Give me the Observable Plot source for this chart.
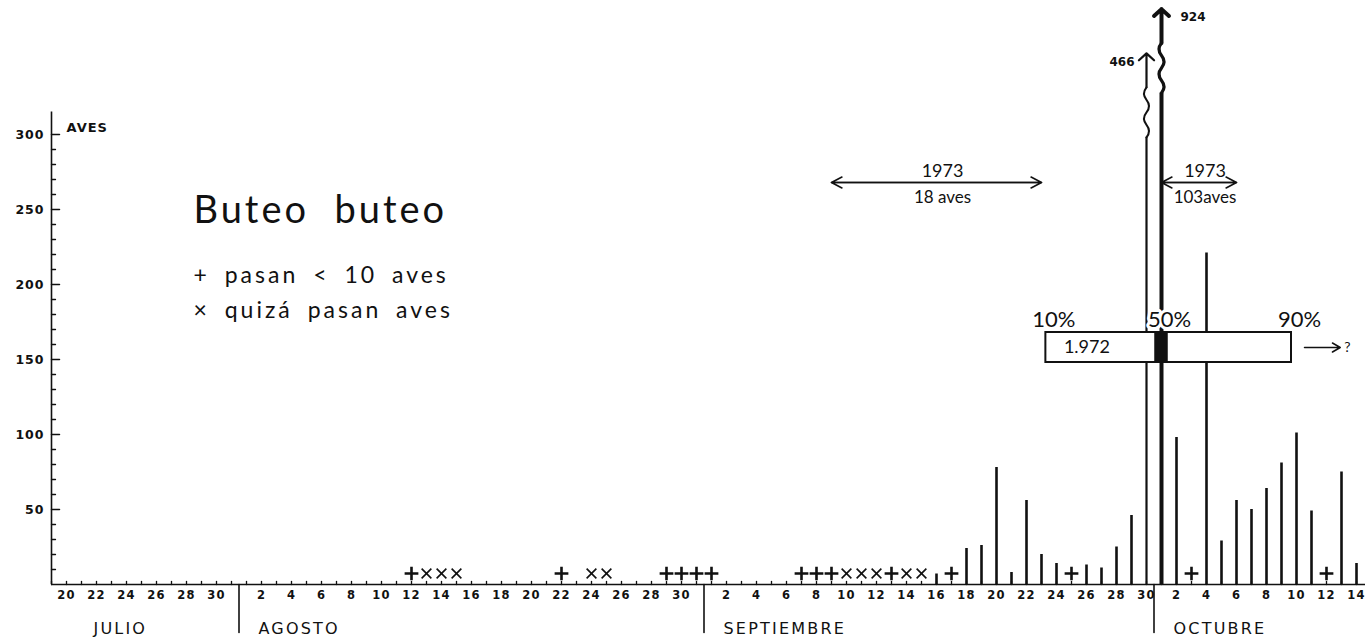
<!DOCTYPE html>
<html>
<head>
<meta charset="utf-8">
<script src="https://cdn.jsdelivr.net/npm/d3@7"></script>
<script src="https://cdn.jsdelivr.net/npm/@observablehq/plot@0.6"></script>
<style>
  html, body { margin: 0; padding: 0; background: #fff; }
  #chart svg { display: block; }
  #chart [aria-label="x-axis tick label"] text { letter-spacing: 1.2px; }
  #chart [aria-label="y-axis tick label"] text { letter-spacing: 1px; }
</style>
</head>
<body>
<div id="chart"></div>
<script>
// ---------------- data ----------------
const YEAR = 1972;
const barDays = ["09-16","09-18","09-19","09-20","09-21","09-22","09-23","09-24","09-26","09-27","09-28","09-29","09-30",
                 "10-01","10-02","10-04","10-05","10-06","10-07","10-08","10-09","10-10","10-11","10-13","10-14"];
const barAves = [7, 24, 26, 78, 8, 56, 20, 14, 13, 11, 25, 46, 466,
                 924, 98, 221, 29, 56, 50, 64, 81, 101, 49, 75, 14];
const plusDays = ["08-12","08-22","08-29","08-30","08-31","09-01","09-07","09-08","09-09","09-13","09-17","09-25","10-03","10-12"];
const timesDays = ["08-13","08-14","08-15","08-24","08-25","09-10","09-11","09-12","09-14","09-15"];

const xTickDays = ["07-20","07-22","07-24","07-26","07-28","07-30",
  "08-02","08-04","08-06","08-08","08-10","08-12","08-14","08-16","08-18","08-20","08-22","08-24","08-26","08-28","08-30",
  "09-02","09-04","09-06","09-08","09-10","09-12","09-14","09-16","09-18","09-20","09-22","09-24","09-26","09-28","09-30",
  "10-02","10-04","10-06","10-08","10-10","10-12","10-14"];
const yTicks = [50, 100, 150, 200, 250, 300];
const yMinorTicks = [10,20,30,40,60,70,80,90,110,120,130,140,160,170,180,190,210,220,230,240,260,270,280,290];

const monthNames = ["JULIO", "AGOSTO", "SEPTIEMBRE", "OCTUBRE"];
const monthLabelDays = ["07-22", "08-02", "09-02", "10-02"];
const monthStarts = ["08-01", "09-01", "10-01"];

const pctLabels = ["10%", "50%", "90%"];
const pctTimes = ["09-23T19:00", "10-01T12:00", "10-10T04:00"];
const label1972 = "1.972";

const span1973From = ["09-09", "10-01"];
const span1973To = ["09-23", "10-06"];
const span1973Year = ["1973", "1973"];
const span1973Text = ["18 aves", "103aves"];

const titleText = "Buteo\u00a0\u00a0buteo";
const legendTexts = ["+ pasan < 10 aves", "× quizá pasan aves"];

// ---------------- helpers ----------------
const DAY = 864e5;
const noon = s => new Date(`${YEAR}-${s}T12:00:00Z`);
const at = s => new Date(`${YEAR}-${s}:00Z`);
const midnight = s => new Date(`${YEAR}-${s}T00:00:00Z`);

const W = 1370, H = 639, MT = 8, MB = 55, ML = 51, MR = 5, Y_MAX = 384;
const PXU = (H - MT - MB) / Y_MAX;           // pixels per bird
const INK = "#111";
const LETTER = "Lato, 'Open Sans', sans-serif";
const TICKFONT = "'DejaVu Sans', sans-serif";

const xDomain = [noon("07-19"), new Date(+noon("10-14") + 0.6 * DAY)];
const bars = barDays.map((s, i) => ({date: noon(s), aves: barAves[i]}));
const normal = bars.filter(d => d.aves <= 300);
const broken = bars.filter(d => d.aves > 300);
const peak = d3.max(barAves);
const isPeak = d => d.aves === peak;

// compressed (broken) upper part of the y axis for off-scale days
const shown = d3.scaleLog().domain([400, 1000]).range([347.5, 387]);
const ARROW_PX = 34, WIGGLE_PX = 50;
const topOf = d => shown(d.aves);
const arrowStart = d => topOf(d) - ARROW_PX / PXU;
const wiggleStart = d => arrowStart(d) - WIGGLE_PX / PXU;

const shapeLine = {draw(c, l) { c.moveTo(0, 0); c.lineTo(0, -l); }};
const shapeWiggle = {draw(c, l) {
  const n = 4, s = l / n, a = 5;
  c.moveTo(0, 0);
  for (let i = 0; i < n; i++) c.quadraticCurveTo(i % 2 ? -a : a, -(i + 0.5) * s, 0, -(i + 1) * s);
}};

const allDays = d3.utcDay.range(midnight("07-19"), midnight("10-15")).map(d => new Date(+d + DAY / 2));
const p10 = at(pctTimes[0]), p50 = at(pctTimes[1]), p90 = at(pctTimes[2]);
const pctData = pctTimes.map((t, i) => ({x: at(t), label: pctLabels[i]}));
const spans = span1973From.map((s, i) => ({from: noon(s), to: noon(span1973To[i]),
  mid: new Date((+noon(s) + +noon(span1973To[i])) / 2), year: span1973Year[i], text: span1973Text[i]}));
const SPAN_Y = 268, BOX_Y1 = 148, BOX_Y2 = 168, BOX_MID = (BOX_Y1 + BOX_Y2) / 2;

const chart = Plot.plot({
  width: W, height: H,
  marginTop: MT, marginBottom: MB, marginLeft: ML, marginRight: MR,
  style: {background: "#fff", color: INK, overflow: "visible"},
  x: {type: "utc", domain: xDomain},
  y: {domain: [0, Y_MAX]},
  marks: [
    // axes
    Plot.ruleY([0], {stroke: INK, strokeWidth: 1.6}),
    Plot.ruleX([xDomain[0]], {y1: 0, y2: 315, stroke: INK, strokeWidth: 1.6}),
    Plot.vector(allDays, {x: d => d, y: 0, length: 3, anchor: "start", shape: shapeLine, strokeWidth: 1.3}),
    Plot.vector(yTicks, {y: d => d, frameAnchor: "left", rotate: 90, length: 8, anchor: "start", shape: shapeLine, strokeWidth: 1.5}),
    Plot.vector(yMinorTicks, {y: d => d, frameAnchor: "left", rotate: 90, length: 4, anchor: "start", shape: shapeLine, strokeWidth: 1.3}),
    Plot.vector(monthStarts, {x: d => midnight(d), y: 0, rotate: 180, length: 48, anchor: "start", shape: shapeLine, strokeWidth: 1.6}),
    Plot.axisX({ticks: xTickDays.map(noon), tickFormat: d => d.getUTCDate(), tickSize: 0, tickPadding: 6,
      fontSize: 11.5, fontWeight: "bold", fontFamily: TICKFONT, label: null}),
    Plot.axisY({ticks: yTicks, tickSize: 0, tickPadding: 7, fontSize: 12.5, fontWeight: "bold", fontFamily: TICKFONT, label: null}),
    Plot.text(monthNames, {x: (d, i) => noon(monthLabelDays[i]), frameAnchor: "bottom", dy: 49, dx: -3, lineAnchor: "bottom",
      textAnchor: "start", fontSize: 16, fontFamily: TICKFONT, text: d => d}),
    Plot.text(["AVES"], {x: xDomain[0], y: 300, dx: 15, dy: -3, lineAnchor: "bottom", textAnchor: "start",
      fontSize: 13, fontWeight: "bold", fontFamily: TICKFONT, text: d => d}),

    // bars
    Plot.ruleX(normal, {x: "date", y1: 0, y2: "aves", stroke: INK, strokeWidth: 2.6}),
    Plot.ruleX(broken, {x: "date", y1: 0, y2: wiggleStart, stroke: INK, strokeWidth: d => isPeak(d) ? 4 : 2.2}),
    Plot.vector(broken, {x: "date", y: wiggleStart, length: WIGGLE_PX, anchor: "start", shape: shapeWiggle,
      strokeWidth: d => isPeak(d) ? 3.2 : 2}),
    Plot.arrow(broken.filter(d => !isPeak(d)), {x1: "date", x2: "date", y1: arrowStart, y2: topOf,
      stroke: INK, strokeWidth: 2.2, headAngle: 95, headLength: 7}),
    Plot.arrow(broken.filter(isPeak), {x1: "date", x2: "date", y1: arrowStart, y2: topOf,
      stroke: INK, strokeWidth: 4, headAngle: 95, headLength: 3.8}),
    Plot.text(broken.filter(d => !isPeak(d)), {x: "date", y: topOf, text: d => d.aves, dx: -12, dy: 9,
      textAnchor: "end", fontSize: 12, fontWeight: "bold", fontFamily: TICKFONT}),
    Plot.text(broken.filter(isPeak), {x: "date", y: topOf, text: d => d.aves, dx: 19, dy: 8,
      textAnchor: "start", fontSize: 12, fontWeight: "bold", fontFamily: TICKFONT}),

    // small-count markers
    Plot.dot(plusDays, {x: d => noon(d), frameAnchor: "bottom", dy: -11, symbol: "plus", r: 4.5, stroke: INK, strokeWidth: 2.6}),
    Plot.dot(timesDays, {x: d => noon(d), frameAnchor: "bottom", dy: -11, symbol: "times", r: 4.5, stroke: INK, strokeWidth: 1.6}),

    // 1972 passage box
    Plot.rect([0], {x1: p10, x2: p90, y1: BOX_Y1, y2: BOX_Y2, fill: "#fff", stroke: INK, strokeWidth: 2}),
    Plot.rect([p50], {x1: d => new Date(+d - 0.45 * DAY), x2: d => new Date(+d + 0.45 * DAY), y1: BOX_Y1, y2: BOX_Y2, fill: INK}),
    Plot.text(pctData, {x: "x", y: BOX_Y2, text: "label", dx: 8, dy: -13, fontSize: 22, fontFamily: LETTER,
      stroke: "#fff", strokeWidth: 6, fill: INK}),
    Plot.text([label1972], {x: p10, y: BOX_MID, text: d => d, dx: 18, textAnchor: "start",
      fontSize: 18, fontFamily: LETTER}),
    Plot.arrow([0], {x1: p90, x2: at("10-13T10:00"), y1: BOX_MID, y2: BOX_MID,
      insetStart: 13, stroke: INK, strokeWidth: 1.5, headLength: 9, headAngle: 60}),
    Plot.text(["?"], {x: at("10-13T10:00"), y: BOX_MID, text: d => d, dx: 4, textAnchor: "start",
      fontSize: 14, fontFamily: LETTER}),

    // 1973 passage spans
    Plot.arrow(spans, {x1: "from", x2: "to", y1: SPAN_Y, y2: SPAN_Y, stroke: INK, strokeWidth: 1.6, headLength: 11, headAngle: 55}),
    Plot.arrow(spans, {x1: "to", x2: "from", y1: SPAN_Y, y2: SPAN_Y, stroke: INK, strokeWidth: 1.6, headLength: 11, headAngle: 55}),
    Plot.text(spans, {x: "mid", y: SPAN_Y, text: "year", dx: 6, dy: -11, fontSize: 18, fontFamily: LETTER}),
    Plot.text(spans, {x: "mid", y: SPAN_Y, text: "text", dx: 6, dy: 15, fontSize: 17, fontFamily: LETTER}),

    // title and legend
    Plot.text([titleText], {frameAnchor: "top-left", dx: 142, dy: 214, text: d => d, lineAnchor: "bottom",
      textAnchor: "start", fontSize: 38, fontFamily: LETTER}),
    Plot.text([legendTexts[0]], {frameAnchor: "top-left", dx: 142, dy: 274, text: d => d, lineAnchor: "bottom",
      textAnchor: "start", fontSize: 23, fontFamily: LETTER}),
    Plot.text([legendTexts[1]], {frameAnchor: "top-left", dx: 142, dy: 309, text: d => d, lineAnchor: "bottom",
      textAnchor: "start", fontSize: 23, fontFamily: LETTER})
  ]
});

// letter spacing of the hand lettering (style only)
const spacing = new Map([
  [titleText, "letter-spacing:3px"],
  [legendTexts[0], "letter-spacing:3px;word-spacing:6px"],
  [legendTexts[1], "letter-spacing:3px;word-spacing:6px"],
  ...monthNames.map(m => [m, "letter-spacing:2.2px"]),
  ["AVES", "letter-spacing:1px"]
]);
d3.select(chart).selectAll("text").each(function () {
  const s = spacing.get(this.textContent);
  if (s) this.setAttribute("style", (this.getAttribute("style") || "") + ";" + s);
});
document.getElementById("chart").append(chart);
</script>
</body>
</html>
